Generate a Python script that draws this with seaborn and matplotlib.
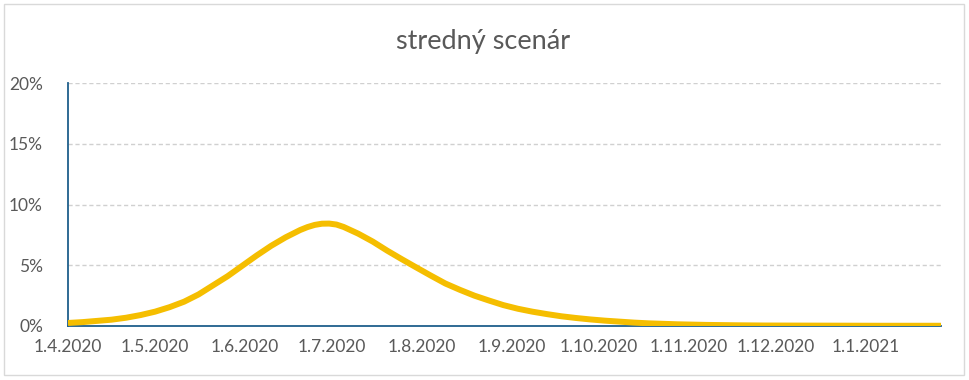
import matplotlib
matplotlib.use("Agg")
import matplotlib.pyplot as plt
from matplotlib.patches import Rectangle
from matplotlib.ticker import FixedLocator, FuncFormatter
import seaborn as sns
import pandas as pd

# ---- data ----
start_date = "2020-04-01"
day_offsets = [0, 5, 10, 15, 20, 25, 30, 35, 40, 45, 50, 55, 60, 65, 70, 75, 80, 82.5, 85,
               87.5, 90, 92.5, 95, 100, 105, 110, 115, 120, 125, 130, 135, 140, 145, 150,
               155, 160, 165, 170, 175, 180, 185, 190, 195, 200, 210, 220, 230, 240, 260,
               280, 301]
share_pct = [0.25, 0.32, 0.42, 0.52, 0.68, 0.9, 1.18, 1.55, 2.0, 2.6, 3.35, 4.1, 4.95, 5.8,
             6.6, 7.3, 7.9, 8.14, 8.32, 8.42, 8.43, 8.35, 8.15, 7.6, 6.95, 6.2, 5.5, 4.82,
             4.15, 3.5, 2.98, 2.5, 2.1, 1.72, 1.42, 1.18, 0.98, 0.8, 0.66, 0.54, 0.44, 0.36,
             0.28, 0.22, 0.14, 0.09, 0.06, 0.04, 0.03, 0.02, 0.02]
tick_dates = ["2020-04-01", "2020-05-01", "2020-06-01", "2020-07-01", "2020-08-01",
              "2020-09-01", "2020-10-01", "2020-11-01", "2020-12-01", "2021-01-01"]
tick_labels = ["1.4.2020", "1.5.2020", "1.6.2020", "1.7.2020", "1.8.2020",
               "1.9.2020", "1.10.2020", "1.11.2020", "1.12.2020", "1.1.2021"]
y_ticks = [0, 5, 10, 15, 20]
title = "stredný scenár"

df = pd.DataFrame({
    "date": pd.to_datetime(start_date) + pd.to_timedelta(day_offsets, unit="D"),
    "value": share_pct,
})

sns.set_theme(style="white")
plt.rcParams["font.family"] = ["Lato", "DejaVu Sans"]

fig = plt.figure(figsize=(9.69, 3.80), dpi=100)
ax = fig.add_axes([68 / 969, 1 - 326 / 380, (941 - 68) / 969, (326 - 83) / 380])

for y in y_ticks[1:]:
    ax.axhline(y, color="#D0D0D0", lw=1.0, ls=(0, (3, 2)), zorder=0)

sns.lineplot(data=df, x="date", y="value", ax=ax, color="#F5BE00", lw=4.3,
             solid_capstyle="butt", solid_joinstyle="round", zorder=3)

ax.set_xlim(pd.Timestamp(start_date), pd.Timestamp(start_date) + pd.Timedelta(days=300.8))
ax.set_ylim(0, 20)
ax.yaxis.set_major_locator(FixedLocator(y_ticks))
ax.yaxis.set_major_formatter(FuncFormatter(lambda v, p: f"{v:.0f}%"))
ax.set_xticks(pd.to_datetime(tick_dates))
ax.set_xticklabels(tick_labels)
ax.set_xlabel("")
ax.set_ylabel("")

for s in ["top", "right"]:
    ax.spines[s].set_visible(False)
for s in ["left", "bottom"]:
    ax.spines[s].set_color("#1F5F8B")
    ax.spines[s].set_linewidth(1.3)
    ax.spines[s].set_zorder(2)

ax.tick_params(axis="y", length=0, pad=18, labelsize=12.5, labelcolor="#595959")
ax.tick_params(axis="x", length=0, pad=9, labelsize=12.5, labelcolor="#595959")

fig.text(483 / 969, 1 - 42 / 380, title, ha="center", va="center",
         fontsize=19.5, color="#595959")

fig.patches.append(Rectangle((4 / 969, 5 / 380), 960 / 969, 371 / 380,
                             transform=fig.transFigure, fill=False,
                             edgecolor="#D9D9D9", lw=1.0))

fig.savefig("out.png", dpi=100)
